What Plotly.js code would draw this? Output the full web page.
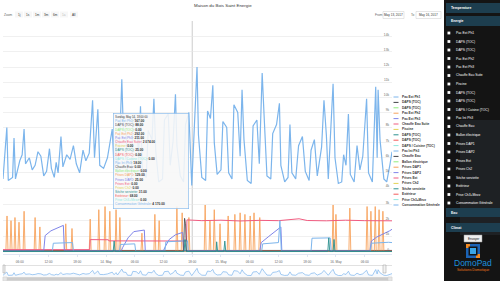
<!DOCTYPE html>
<html><head><meta charset="utf-8">
<script src="https://cdn.plot.ly/plotly-3.0.1.min.js"></script>
<style>html,body{margin:0;padding:0;background:#fff;}#chart{width:500px;height:281px;}</style>
</head><body><div id="chart"></div>
<script>
// ---------- DATA ----------
const seriesNames = ["Pac Ext Ph1","DAPS (TOC)","DAPS (TOC)","Pac Ext Ph2","Pac Ext Ph3","Chauffe Eau Suite","Piscine","DAPS (TOC)","DAPS (TOC)","DAPS / Cuisine (TOC)","Pac Int Ph3","Chauffe Eau","Ballon électrique","Prises DAP1","Prises DAP2","Prises Ext","Prises Ch2","Sèche serviette","Extérieur","Prise Ch3+Mezz","Consommation Générale"];
const seriesColors = ["#7cb5ec","#434348","#90ed7d","#f7a35c","#8085e9","#f15c80","#e4d354","#2b908f","#f45b5b","#91e8e1","#7cb5ec","#434348","#90ed7d","#f7a35c","#8085e9","#f15c80","#e4d354","#2b908f","#f45b5b","#91e8e1","#7cb5ec"];
const tooltipValues = ["167.00","88.00","0.00","292.00","211.00","2 074.00","0.00","25.00","0.00","0.00","18.00","0.00","0.00","129.00","25.00","0.00","0.00","31.00","68.00","0.00","4 170.00"];
const tooltipHeader = "Sunday, May 14, 18:00:00";

const tickHours = [6,12,18,24,30,36,42,48,54,60,66,72,78];
const tickLabels = ["06:00","12:00","18:00","14. May","06:00","12:00","18:00","15. May","06:00","12:00","18:00","16. May","06:00"];
const topTickVals = [4000,5000,6000,7000,8000,9000,10000,11000,12000,13000,14000,15000];
const topTickText = ["4k","5k","6k","7k","8k","9k","10k","11k","12k","13k","14k",""];
const lowTickVals = [0,1000,2000,3000];
const lowTickText = ["0","1k","2k","3k"];

// Consommation Générale (hours from 13 May 00:00, W)
const consoH = [2.5,3.3,3.6,4.5,4.8,5.1,6.0,6.5,6.9,7.2,8.0,8.6,9.2,9.8,10.4,11.0,11.6,12.2,12.6,13.2,13.6,14.0,14.6,15.0,15.8,16.5,17.2,17.8,18.5,19.2,19.8,20.5,21.2,21.6,22.3,22.7,23.5,24.3,25.3,25.7,26.1,26.4,27.0,27.3,27.6,28.2,28.5,29.3,29.6,30.4,30.8,31.2,31.6,32.4,32.8,33.6,34.0,34.4,35.0,35.8,36.2,37.0,37.4,38.0,38.5,38.8,39.5,40.2,40.6,41.3,41.9,42.5,43.0,43.3,44.0,44.8,45.2,45.8,46.3,46.6,47.2,48.0,48.4,49.2,49.6,50.3,50.7,51.5,52.0,52.4,52.8,53.5,54.3,54.7,55.5,56.0,56.6,57.0,57.6,58.4,58.8,59.6,60.2,60.5,61.3,62.0,62.4,62.8,63.6,64.2,65.0,65.6,66.4,66.8,67.5,68.1,69.0,69.5,70.0,70.4,71.0,71.4,71.8,72.5,73.2,73.6,74.1,74.6,75.0,75.8,76.4,77.0,77.6,78.4,78.8,79.6,80.3,80.6,80.8,81.2,82.0,82.6,83.3,83.7];
const consoV = [4600,8000,4500,4700,7300,4600,5800,6200,7900,5600,6000,5200,5500,6400,6100,4800,5100,6600,5300,4700,5700,5000,7400,5400,6200,5900,6800,5600,5000,6500,5800,6300,9800,6000,9200,5500,5300,6000,7900,5200,7400,4900,8400,11200,8000,7600,4600,4500,8800,8300,6000,9400,5100,4700,7800,7200,9900,6400,4400,4600,8500,8900,5500,7100,10200,6800,4800,4400,8200,9000,4170,8700,12000,7500,4700,4500,9100,8600,10800,7000,4900,5200,8400,8000,5000,4600,9500,9000,6100,10500,7200,4500,4300,8100,8500,5600,11600,8800,4800,4600,7600,8200,9600,5500,4400,4700,8200,5000,4600,6800,7400,5100,4500,6500,7200,4800,6700,9800,7500,4600,8700,10900,6000,4300,4400,6200,5500,8900,4900,4400,6800,5200,6100,9900,5000,4400,10700,6000,10500,7200,4600,4400,5600,6400];

// Pac Ext Ph2 (orange spikes)
const pacExtPh2H = [2.5,3.1,3.34,3.55,3.95,4.17,4.4,4.8,5.0,5.2,5.6,5.84,6.05,6.7,6.9,7.1,9.0,9.2,9.4,10.0,10.2,10.4,15.4,15.6,15.8,16.7,16.9,17.1,20.5,20.7,20.9,22.3,22.5,22.7,23.6,23.8,24.0,24.6,24.8,25.0,25.9,26.1,26.3,26.7,26.9,27.1,31.3,31.5,31.7,34.0,34.2,34.4,34.9,35.1,35.3,38.6,38.8,39.0,39.7,39.9,40.1,41.1,41.3,41.5,44.5,44.7,44.9,45.5,45.7,45.9,46.4,46.6,46.8,47.6,47.8,48.0,49.3,49.5,49.7,50.7,50.9,51.1,51.8,52.0,52.2,52.8,53.0,53.2,53.9,54.1,54.3,54.7,54.9,55.1,55.9,56.1,56.3,71.2,71.4,71.6,71.8,72.0,72.2,74.7,74.9,75.1,78.3,78.5,78.7,79.1,79.3,79.5,80.0,80.2,80.4,80.8,81.0,81.2,81.6,81.8,82.0,83.7];
const pacExtPh2V = [40,40,2300,40,40,2000,40,40,2200,40,40,1900,40,40,2600,40,40,2200,40,40,1600,40,40,1800,40,40,1500,40,40,2100,40,40,2700,40,40,2900,40,40,2600,40,40,2700,40,40,2200,40,40,1200,40,40,2400,40,40,2000,40,40,2900,40,40,2500,40,40,2200,40,40,3000,40,40,2000,40,40,2700,40,40,1800,40,40,2300,40,40,2400,40,40,2500,40,40,2400,40,40,2300,40,40,2500,40,40,2200,40,40,3000,40,40,2400,40,40,2800,40,40,2900,40,40,2600,40,40,2900,40,40,2700,40,40,2600,40,40];

// Chauffe Eau Suite (pink)
const chauffeSuiteH = [2.5,8,14,20.6,20.7,24.5,24.6,32,40.8,40.9,44,48,52,56,60,64.3,66,70,74,78,82,83.7];
const chauffeSuiteV = [150,160,140,150,790,780,710,720,700,2050,2000,2030,1980,2020,2000,2120,2010,1990,2030,2000,2010,1990];

// Pac Ext Ph3 (purple)
const pacExtPh3H = [2.5,11.0,11.3,12.5,15.1,15.3,27.2,27.5,28.6,29.8,32.0,32.2,36.0,36.3,37.2,38.5,40.0,40.2,56.1,56.4,58.0,60.5,60.7,79.1,79.4,80.5,83.2,83.7];
const pacExtPh3V = [80,80,1050,1350,1700,80,80,300,900,1300,1400,80,80,300,800,1100,1250,80,80,600,1000,1600,80,80,700,950,1350,1450];

// Pac Ext Ph1 (light blue, lower pane)
const pacExtPh1H = [2.5,12.8,13.0,17.0,17.2,26.8,27.0,30.0,30.2,36.3,36.5,41.0,41.2,56.5,56.7,60.0,60.3,60.6,66.8,67.0,70.8,71.0,79.2,79.4,83.0,83.7];
const pacExtPh1V = [50,50,560,600,50,50,480,520,50,50,650,720,50,50,520,600,2000,50,50,880,900,50,50,560,620,600];

// Chauffe Eau (dark)
const chauffeEauH = [2.5,40.2,40.4,40.6,40.8,83.7];
const chauffeEauV = [60,60,2150,1800,60,60];

// Sèche serviette (teal)
const secheH = [2.5,25.5,25.7,25.9,40.3,40.5,40.7,47.0,47.1,47.3,48.6,48.8,49.0,70.3,70.5,70.7,71.4,71.6,71.8,83.7];
const secheV = [30,30,700,30,30,800,30,30,650,30,30,700,30,30,900,30,30,800,30,30];

// Small near-zero series
const dapsH = [2.5,20,40,60,83.7];
const dapsV = [100,90,110,95,100];
const ballonV = [30,30,30,30,30];
const extV = [68,70,66,68,68];

// ---------- HELPERS ----------
const T0 = Date.UTC(2017,4,13);
function toDate(h){ return new Date(T0 + h*3600000).toISOString().slice(0,19).replace('T',' '); }
const W = 500, H = 281;
const px = x => x / W;
const py = y => 1 - y / H;
const FAM = 'Liberation Sans, Arial, sans-serif';

function line(hs, vs, color, yaxis, width){
  return {type:'scatter', mode:'lines', x:hs.map(toDate), y:vs, xaxis:'x', yaxis:yaxis,
    line:{color:color, width:width||1}, hoverinfo:'skip', showlegend:false};
}

const traces = [
  line(dapsH, dapsV, '#434348', 'y2', 0.8),
  line(dapsH, ballonV, '#90ed7d', 'y2', 0.8),
  line(dapsH, extV, '#f45b5b', 'y2', 0.8),
  line(pacExtPh2H, pacExtPh2V, '#f7a35c', 'y2', 0.9),
  line(chauffeSuiteH, chauffeSuiteV, '#f15c80', 'y2', 1),
  line(pacExtPh3H, pacExtPh3V, '#8085e9', 'y2', 1),
  line(pacExtPh1H, pacExtPh1V, '#7cb5ec', 'y2', 1),
  line(chauffeEauH, chauffeEauV, '#434348', 'y2', 0.8),
  line(secheH, secheV, '#2b908f', 'y2', 0.9),
  line(consoH, consoV, '#7cb5ec', 'y', 1.2),
  {type:'scatter', mode:'lines', x:consoH.map(toDate), y:consoV, xaxis:'x2', yaxis:'y3',
    line:{color:'#7cb5ec', width:0.7}, fill:'tozeroy', fillcolor:'rgba(124,181,236,0.08)', hoverinfo:'skip', showlegend:false}
];

const xRange = [toDate(2.5), toDate(83.7)];
const fnt = {family:FAM, size:3.2, color:'#666'};

const shapes = [];
const annotations = [];
function rect(x0,y0,x1,y1,fill,lc,lw){
  shapes.push({type:'rect', xref:'paper', yref:'paper', x0:px(x0), x1:px(x1), y0:py(y1), y1:py(y0),
    fillcolor:fill, line:{color:lc||fill, width:lw===undefined?0:lw}, layer:'above'});
}
function hline(x0,x1,y,color,w){
  shapes.push({type:'line', xref:'paper', yref:'paper', x0:px(x0), x1:px(x1), y0:py(y), y1:py(y), line:{color:color,width:w||1}, layer:'above'});
}
function txt(x,y,text,size,color,opts){
  annotations.push(Object.assign({xref:'paper', yref:'paper', x:px(x), y:py(y), text:text, showarrow:false,
    xanchor:'left', yanchor:'middle', font:{family:FAM, size:size, color:color}}, opts||{}));
}

// crosshair
shapes.push({type:'line', xref:'x', yref:'paper', x0:toDate(42), x1:toDate(42), y0:py(254), y1:py(21), line:{color:'#cccccc', width:1}, layer:'below'});

// title + range selector
txt(223, 5, 'Maison du Bois Saint Energie', 4.4, '#333333', {xanchor:'center'});
txt(2, 14.5, 'Zoom', 3.2, '#666666');
const btnLabels = ['1j','1s','1m','3m','6m','1a','All'];
const btnX = [16,25,34,43,52,61,71];
btnLabels.forEach((b,i)=>{
  rect(btnX[i]-1, 11.5, btnX[i]+7, 17.5, '#f7f7f7');
  txt(btnX[i]+3, 14.5, b, 3.1, i===5 ? '#bbbbbb' : '#333333', {xanchor:'center'});
});
txt(373, 15, 'From', 3.2, '#666666');
rect(383, 11.5, 404, 18.5, '#ffffff', '#cccccc', 0.5);
txt(393.5, 15, 'May 13, 2017', 3.1, '#333333', {xanchor:'center'});
txt(409, 15, 'To', 3.2, '#666666');
rect(416, 11.5, 441, 18.5, '#ffffff', '#cccccc', 0.5);
txt(428.5, 15, 'May 16, 2017', 3.1, '#333333', {xanchor:'center'});

// in-plot legend
seriesNames.forEach((n,i)=>{
  const y = 97 + 5.4*i;
  hline(393.5, 398.5, y, seriesColors[i], 1);
  txt(400, y, '<b>'+n+'</b>', 3.2, '#333333');
});

// tooltip
const ttLines = ['<span style="font-size:2.8px">'+tooltipHeader+'</span>'].concat(
  seriesNames.map((n,i)=>'<span style="color:'+seriesColors[i]+'">'+n+'</span>: <b>'+tooltipValues[i]+'</b>'));
annotations.push({xref:'paper', yref:'paper', x:px(113), y:py(113), xanchor:'left', yanchor:'top',
  text:ttLines.join('<br>'), align:'left', showarrow:false, bgcolor:'rgba(247,247,247,0.88)',
  bordercolor:'#7cb5ec', borderwidth:0.6, borderpad:1.5, width:72,
  font:{family:FAM, size:3.2, color:'#333333'}});

// navigator decorations
hline(3, 392, 265.5, '#cccccc', 0.6);
rect(3, 265, 5, 273, '#f2f2f2', '#999999', 0.5);
rect(383, 265, 386, 273, '#f2f2f2', '#999999', 0.5);
// scrollbar
rect(3, 277, 392, 281, '#f2f2f2', '#e6e6e6', 0.5);
rect(7, 277.3, 388, 280.7, '#cccccc', '#cccccc', 0);
rect(3, 277, 7, 281, '#e6e6e6', '#cccccc', 0.5);
rect(388, 277, 392, 281, '#e6e6e6', '#cccccc', 0.5);

// sidebar
rect(444, 0, 500, 281, '#141414');
rect(460, 120, 500, 235, 'rgba(70,80,95,0.22)');
rect(446, 3, 500, 13, '#1d3e4f');
txt(449, 8, '<b>Temperature</b>', 3.4, '#ffffff');
rect(446, 16, 500, 26, '#1d3e4f');
txt(449, 21, '<b>Energie</b>', 3.4, '#ffffff');
seriesNames.forEach((n,i)=>{
  const y = 33 + 8.5*i;
  rect(447.5, y-1.4, 450.3, y+1.4, '#ffffff');
  txt(454, y, n, 3.3, '#ffffff');
});
rect(446, 208, 500, 217, '#1d3e4f');
txt(449, 212.5, '<b>Eau</b>', 3.4, '#ffffff');
rect(446, 223, 500, 232, '#1d3e4f');
txt(449, 227.5, '<b>Climat</b>', 3.4, '#ffffff');
rect(464, 235, 482, 242, '#eeeeee', '#999999', 0.5);
txt(473, 238.5, 'Envoyer', 3.1, '#111111', {xanchor:'center'});
// logo
rect(466, 244, 480, 258, '#1b63b5');
rect(466, 244, 470, 248, '#f08a24');
rect(476, 254, 480, 258, '#f08a24');
rect(468.5, 246.5, 477.5, 255.5, '#141414');
rect(470, 248, 476, 254, '#3aa6e8');
txt(473, 263, 'DomoPad', 8.5, '#1e90dc', {xanchor:'center'});
txt(473, 270, 'Solutions Domotique', 3.5, '#e8761a', {xanchor:'center'});

const layout = {
  width:W, height:H, margin:{l:0,r:0,t:0,b:0}, paper_bgcolor:'#ffffff', plot_bgcolor:'#ffffff',
  showlegend:false, hovermode:false,
  xaxis:{domain:[px(3),px(392)], anchor:'y2', type:'date', range:xRange,
    tickmode:'array', tickvals:tickHours.map(toDate), ticktext:tickLabels, tickfont:fnt,
    showgrid:false, showline:true, linecolor:'#ccd6eb', linewidth:0.6, ticks:'outside', ticklen:2, tickcolor:'#ccd6eb', tickwidth:0.6, zeroline:false,
    ticklabelstandoff:3},
  xaxis2:{domain:[px(3),px(392)], anchor:'y3', type:'date', range:xRange, showticklabels:false, showgrid:false, zeroline:false, showline:false},
  yaxis:{domain:[py(190),py(21)], anchor:'x', side:'right', range:[3868,15046],
    tickmode:'array', tickvals:topTickVals, ticktext:topTickText, ticklabelposition:'inside top',
    tickfont:fnt, gridcolor:'#e6e6e6', gridwidth:0.6, zeroline:false, showline:false, ticks:''},
  yaxis2:{domain:[py(254),py(197)], anchor:'x', side:'right', range:[-128,3510],
    tickmode:'array', tickvals:lowTickVals, ticktext:lowTickText, ticklabelposition:'inside top',
    tickfont:fnt, gridcolor:'#e6e6e6', gridwidth:0.6, zeroline:false, showline:false, ticks:''},
  yaxis3:{domain:[py(276),py(266)], anchor:'x2', range:[3800,14500], showticklabels:false, showgrid:false, zeroline:false},
  shapes:shapes, annotations:annotations
};

Plotly.newPlot('chart', traces, layout, {staticPlot:true, displayModeBar:false});
</script>
</body></html>
